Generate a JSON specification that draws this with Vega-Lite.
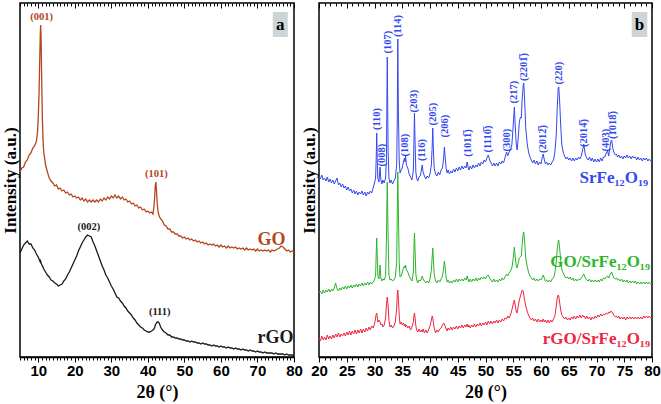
{
"$schema":"https://vega.github.io/schema/vega-lite/v6.json",
"padding":{"left":0,"top":1,"right":0,"bottom":0},
"background":"white",
"spacing":25,
"bounds":"flush",
"resolve":{"scale":{"color":"independent"}},
"config":{
 "view":{"stroke":"black","strokeWidth":1.5},
 "axis":{"domainColor":"black","domainWidth":1.5,"tickColor":"black","tickWidth":1,"grid":false,"labelFont":"Liberation Sans","labelFontWeight":"bold","labelFontSize":15,"labelColor":"black","titleFont":"Liberation Serif","titleFontWeight":"bold","titleFontSize":18,"titleColor":"black"},
 "text":{"font":"Liberation Serif","fontWeight":"bold"}
},
"hconcat":[
{
 "width":274,"height":354,
 "resolve":{"axis":{"x":"independent","y":"independent"}},
 "layer":[
 {
  "data":{"values":[
{"t":5,"GO":188,"rGO":107},{"t":5.5,"GO":192,"rGO":111},{"t":6,"GO":193,"rGO":115},{"t":6.5,"GO":198,"rGO":117},{"t":7,"GO":200,"rGO":119},{"t":7.5,"GO":205,"rGO":116},{"t":8,"GO":207,"rGO":116},{"t":8.5,"GO":212,"rGO":112},{"t":9,"GO":214,"rGO":110},{"t":9.5,"GO":219,"rGO":106},{"t":9.8,"GO":228,"rGO":104},{"t":10,"GO":243,"rGO":103},{"t":10.2,"GO":265,"rGO":101},{"t":10.4,"GO":300,"rGO":99},{"t":10.55,"GO":325,"rGO":98},{"t":10.65,"GO":335,"rGO":99},{"t":10.75,"GO":325,"rGO":97},{"t":10.9,"GO":290,"rGO":96},{"t":11.1,"GO":245,"rGO":94},{"t":11.3,"GO":220,"rGO":93},{"t":11.5,"GO":208,"rGO":91},{"t":12,"GO":195,"rGO":88},{"t":12.5,"GO":188,"rGO":85},{"t":13,"GO":182,"rGO":83},{"t":13.5,"GO":179,"rGO":80},{"t":14,"GO":177,"rGO":79},{"t":14.5,"GO":174,"rGO":77},{"t":15,"GO":175,"rGO":76},{"t":15.5,"GO":171,"rGO":74},{"t":16,"GO":172,"rGO":75},{"t":16.5,"GO":169,"rGO":76},{"t":17,"GO":170,"rGO":79},{"t":17.5,"GO":167,"rGO":81},{"t":18,"GO":168,"rGO":85},{"t":18.5,"GO":165,"rGO":88},{"t":19,"GO":166,"rGO":92},{"t":19.5,"GO":163,"rGO":96},{"t":20,"GO":164,"rGO":100},{"t":20.5,"GO":162,"rGO":104},{"t":21,"GO":163,"rGO":109},{"t":21.5,"GO":160,"rGO":113},{"t":22,"GO":162,"rGO":117},{"t":22.5,"GO":159,"rGO":120},{"t":23,"GO":161,"rGO":123},{"t":23.5,"GO":158,"rGO":125},{"t":24,"GO":160,"rGO":124},{"t":24.5,"GO":158,"rGO":123},{"t":25,"GO":160,"rGO":118},{"t":25.5,"GO":158,"rGO":114},{"t":26,"GO":160,"rGO":109},{"t":26.5,"GO":158,"rGO":104},{"t":27,"GO":161,"rGO":99},{"t":27.5,"GO":159,"rGO":94},{"t":28,"GO":162,"rGO":90},{"t":28.5,"GO":160,"rGO":85},{"t":29,"GO":163,"rGO":82},{"t":29.5,"GO":161,"rGO":78},{"t":30,"GO":164,"rGO":74},{"t":30.5,"GO":162,"rGO":71},{"t":31,"GO":165,"rGO":67},{"t":31.5,"GO":162,"rGO":63},{"t":32,"GO":164,"rGO":62},{"t":32.5,"GO":161,"rGO":59},{"t":33,"GO":163,"rGO":57},{"t":33.5,"GO":160,"rGO":54},{"t":34,"GO":161,"rGO":52},{"t":34.5,"GO":158,"rGO":49},{"t":35,"GO":159,"rGO":47},{"t":35.5,"GO":156,"rGO":45},{"t":36,"GO":157,"rGO":42},{"t":36.5,"GO":154,"rGO":40},{"t":37,"GO":155,"rGO":37},{"t":37.5,"GO":152,"rGO":35},{"t":38,"GO":153,"rGO":33},{"t":38.5,"GO":150,"rGO":32},{"t":39,"GO":151,"rGO":30},{"t":39.5,"GO":148,"rGO":29},{"t":40,"GO":149,"rGO":28},{"t":40.5,"GO":147,"rGO":28},{"t":41,"GO":148,"rGO":29},{"t":41.4,"GO":146,"rGO":30},{"t":41.7,"GO":155,"rGO":31},{"t":41.9,"GO":165,"rGO":33},{"t":42.05,"GO":175,"rGO":35},{"t":42.2,"GO":178,"rGO":36},{"t":42.35,"GO":170,"rGO":37},{"t":42.55,"GO":157,"rGO":38},{"t":42.8,"GO":148,"rGO":38},{"t":43.1,"GO":144,"rGO":37},{"t":43.5,"GO":141,"rGO":33},{"t":44,"GO":139,"rGO":30},{"t":44.5,"GO":135,"rGO":28},{"t":45,"GO":134,"rGO":27},{"t":45.5,"GO":131,"rGO":25},{"t":46,"GO":131,"rGO":25},{"t":46.5,"GO":128,"rGO":23},{"t":47,"GO":128,"rGO":23},{"t":47.5,"GO":126,"rGO":22},{"t":48,"GO":126,"rGO":22},{"t":48.5,"GO":124,"rGO":21},{"t":49,"GO":124,"rGO":21},{"t":49.5,"GO":122,"rGO":20},{"t":50,"GO":123,"rGO":20},{"t":50.5,"GO":121,"rGO":19},{"t":51,"GO":122,"rGO":19},{"t":51.5,"GO":120,"rGO":18},{"t":52,"GO":121,"rGO":19},{"t":52.5,"GO":119,"rGO":18},{"t":53,"GO":120,"rGO":18},{"t":53.5,"GO":118,"rGO":17},{"t":54,"GO":119,"rGO":17},{"t":54.5,"GO":117,"rGO":16},{"t":55,"GO":118,"rGO":17},{"t":55.5,"GO":116,"rGO":16},{"t":56,"GO":117,"rGO":16},{"t":56.5,"GO":115,"rGO":15},{"t":57,"GO":116,"rGO":15},{"t":57.5,"GO":115,"rGO":14},{"t":58,"GO":116,"rGO":15},{"t":58.5,"GO":114,"rGO":14},{"t":59,"GO":115,"rGO":14},{"t":59.5,"GO":113,"rGO":13},{"t":60,"GO":115,"rGO":14},{"t":60.5,"GO":113,"rGO":13},{"t":61,"GO":114,"rGO":13},{"t":61.5,"GO":112,"rGO":12},{"t":62,"GO":114,"rGO":13},{"t":62.5,"GO":112,"rGO":12},{"t":63,"GO":113,"rGO":12},{"t":63.5,"GO":112,"rGO":11},{"t":64,"GO":113,"rGO":12},{"t":64.5,"GO":111,"rGO":11},{"t":65,"GO":112,"rGO":11},{"t":65.5,"GO":111,"rGO":10},{"t":66,"GO":112,"rGO":11},{"t":66.5,"GO":110,"rGO":10},{"t":67,"GO":112,"rGO":10},{"t":67.5,"GO":110,"rGO":9},{"t":68,"GO":111,"rGO":10},{"t":68.5,"GO":110,"rGO":9},{"t":69,"GO":111,"rGO":9},{"t":69.5,"GO":109,"rGO":8},{"t":70,"GO":111,"rGO":9},{"t":70.5,"GO":109,"rGO":8},{"t":71,"GO":110,"rGO":8},{"t":71.5,"GO":109,"rGO":7},{"t":72,"GO":110,"rGO":8},{"t":72.5,"GO":109,"rGO":7},{"t":73,"GO":110,"rGO":7},{"t":73.5,"GO":108,"rGO":7},{"t":74,"GO":110,"rGO":7},{"t":74.5,"GO":109,"rGO":6},{"t":75,"GO":110,"rGO":7},{"t":75.5,"GO":111,"rGO":6},{"t":76,"GO":112,"rGO":6},{"t":76.5,"GO":114,"rGO":6},{"t":77,"GO":113,"rGO":6},{"t":77.5,"GO":111,"rGO":5},{"t":78,"GO":109,"rGO":6},{"t":78.5,"GO":110,"rGO":5},{"t":79,"GO":108,"rGO":5},{"t":79.5,"GO":109,"rGO":5},{"t":80,"GO":108,"rGO":5}
  ]},
  "transform":[{"fold":["GO","rGO"],"as":["series","v"]}],
  "mark":{"type":"line","strokeWidth":1.3},
  "encoding":{
   "x":{"field":"t","type":"quantitative","scale":{"domain":[5,80],"nice":false,"zero":false},
    "axis":{"orient":"bottom","values":[5,6,7,8,9,10,11,12,13,14,15,16,17,18,19,20,21,22,23,24,25,26,27,28,29,30,31,32,33,34,35,36,37,38,39,40,41,42,43,44,45,46,47,48,49,50,51,52,53,54,55,56,57,58,59,60,61,62,63,64,65,66,67,68,69,70,71,72,73,74,75,76,77,78,79,80],
     "tickSize":{"condition":{"test":"datum.value % 10 === 0","value":5},"value":3},
     "labelExpr":"datum.value % 10 === 0 ? datum.label : ''","labelFlush":false,"labelOverlap":false,"labelPadding":1,"title":"2θ (°)","titlePadding":5}},
   "y":{"field":"v","type":"quantitative","scale":{"domain":[3,357],"nice":false,"zero":false},
    "axis":{"title":"Intensity (a.u.)","ticks":false,"labels":false,"domain":false,"titlePadding":1,"titleFontSize":17}},
   "color":{"field":"series","type":"nominal","scale":{"domain":["GO","rGO"],"range":["#b5451b","#1a1a1a"]},"legend":null},
   "order":{"field":"t","type":"quantitative"}
  }
 },
 {
  "data":{"values":[
   {"t":10.9,"v":343,"lab":"(001)","series":"GO"},
   {"t":42.35,"v":186,"lab":"(101)","series":"GO"},
   {"t":23.85,"v":133,"lab":"(002)","series":"rGO"},
   {"t":43.25,"v":48,"lab":"(111)","series":"rGO"}
  ]},
  "mark":{"type":"text","fontSize":10.5,"align":"center","baseline":"middle"},
  "encoding":{
   "x":{"field":"t","type":"quantitative","axis":{"orient":"top","values":[5,6,7,8,9,10,11,12,13,14,15,16,17,18,19,20,21,22,23,24,25,26,27,28,29,30,31,32,33,34,35,36,37,38,39,40,41,42,43,44,45,46,47,48,49,50,51,52,53,54,55,56,57,58,59,60,61,62,63,64,65,66,67,68,69,70,71,72,73,74,75,76,77,78,79,80],"labels":false,"title":null,"domain":false,
     "tickSize":{"condition":{"test":"datum.value % 10 === 0","value":-5},"value":-3}}},
   "y":{"field":"v","type":"quantitative","axis":null},
   "text":{"field":"lab"},
   "color":{"field":"series","type":"nominal","legend":null}
  }
 },
 {
  "data":{"values":[
   {"t":73.85,"v":120,"lab":"GO","series":"GO"},
   {"t":74.95,"v":22,"lab":"rGO","series":"rGO"}
  ]},
  "mark":{"type":"text","fontSize":18,"align":"center","baseline":"middle"},
  "encoding":{
   "x":{"field":"t","type":"quantitative","axis":null},
   "y":{"field":"v","type":"quantitative","axis":null},
   "text":{"field":"lab"},
   "color":{"field":"series","type":"nominal","legend":null}
  }
 },
 {
  "data":{"values":[{"t1":74.2,"t2":78.3,"v1":348,"v2":323}]},
  "mark":{"type":"rect","color":"#cdd5d8"},
  "encoding":{
   "x":{"field":"t1","type":"quantitative","axis":null},"x2":{"field":"t2"},
   "y":{"field":"v1","type":"quantitative","axis":null},"y2":{"field":"v2"}
  }
 },
 {
  "data":{"values":[{"t":76.25,"v":335,"lab":"a"}]},
  "mark":{"type":"text","fontSize":17,"align":"center","baseline":"middle","color":"black"},
  "encoding":{
   "x":{"field":"t","type":"quantitative","axis":null},
   "y":{"field":"v","type":"quantitative","axis":null},
   "text":{"field":"lab"}
  }
 }
 ]
},
{
 "width":333,"height":354,
 "resolve":{"axis":{"x":"independent","y":"independent"}},
 "layer":[
 {
  "data":{"values":[
{"t":20,"S":184,"G":67,"R":22},{"t":20.25,"S":181,"G":69,"R":19},{"t":20.5,"S":185,"G":66,"R":24},{"t":20.75,"S":180,"G":70,"R":20},{"t":21,"S":182,"G":67,"R":23},{"t":21.25,"S":179,"G":70,"R":20},{"t":21.5,"S":183,"G":68,"R":25},{"t":21.75,"S":178,"G":71,"R":21},{"t":22,"S":181,"G":68,"R":24},{"t":22.25,"S":177,"G":71,"R":21},{"t":22.5,"S":180,"G":69,"R":25},{"t":22.75,"S":176,"G":72,"R":22},{"t":23,"S":179,"G":77,"R":26},{"t":23.25,"S":182,"G":71,"R":23},{"t":23.5,"S":175,"G":69,"R":27},{"t":23.75,"S":177,"G":72,"R":23},{"t":24,"S":173,"G":70,"R":26},{"t":24.25,"S":176,"G":73,"R":24},{"t":24.5,"S":172,"G":71,"R":27},{"t":24.75,"S":174,"G":74,"R":24},{"t":25,"S":170,"G":71,"R":28},{"t":25.25,"S":173,"G":74,"R":25},{"t":25.5,"S":169,"G":72,"R":29},{"t":25.75,"S":171,"G":75,"R":25},{"t":26,"S":167,"G":72,"R":29},{"t":26.25,"S":170,"G":75,"R":26},{"t":26.5,"S":166,"G":73,"R":30},{"t":26.75,"S":169,"G":76,"R":26},{"t":27,"S":165,"G":73,"R":30},{"t":27.25,"S":168,"G":76,"R":27},{"t":27.5,"S":166,"G":74,"R":31},{"t":27.75,"S":169,"G":77,"R":27},{"t":28,"S":165,"G":74,"R":31},{"t":28.25,"S":168,"G":77,"R":28},{"t":28.5,"S":164,"G":75,"R":32},{"t":28.75,"S":168,"G":78,"R":29},{"t":29,"S":166,"G":75,"R":33},{"t":29.25,"S":169,"G":78,"R":30},{"t":29.5,"S":167,"G":76,"R":34},{"t":29.75,"S":172,"G":78,"R":32},{"t":30,"S":177,"G":80,"R":36},{"t":30.2,"S":182,"G":85,"R":42},{"t":30.3,"S":200,"G":105,"R":46},{"t":30.4,"S":227,"G":122,"R":47},{"t":30.5,"S":200,"G":102,"R":42},{"t":30.6,"S":182,"G":84,"R":38},{"t":30.8,"S":178,"G":81,"R":40},{"t":31,"S":193,"G":95,"R":38},{"t":31.15,"S":180,"G":82,"R":35},{"t":31.35,"S":176,"G":79,"R":36},{"t":31.5,"S":180,"G":81,"R":33},{"t":31.75,"S":177,"G":80,"R":35},{"t":32,"S":182,"G":84,"R":42},{"t":32.15,"S":200,"G":120,"R":55},{"t":32.3,"S":303,"G":178,"R":63},{"t":32.45,"S":210,"G":125,"R":55},{"t":32.6,"S":182,"G":85,"R":40},{"t":32.8,"S":177,"G":80,"R":33},{"t":33,"S":180,"G":81,"R":35},{"t":33.25,"S":176,"G":79,"R":32},{"t":33.5,"S":179,"G":80,"R":34},{"t":33.75,"S":182,"G":83,"R":38},{"t":34,"S":195,"G":98,"R":52},{"t":34.1,"S":240,"G":145,"R":65},{"t":34.2,"S":321,"G":188,"R":70},{"t":34.3,"S":250,"G":150,"R":62},{"t":34.45,"S":200,"G":98,"R":45},{"t":34.6,"S":187,"G":83,"R":36},{"t":34.8,"S":190,"G":84,"R":38},{"t":35,"S":192,"G":87,"R":35},{"t":35.2,"S":198,"G":92,"R":37},{"t":35.4,"S":202,"G":94,"R":34},{"t":35.5,"S":198,"G":92,"R":36},{"t":35.6,"S":204,"G":95,"R":33},{"t":35.75,"S":195,"G":90,"R":35},{"t":36,"S":192,"G":88,"R":32},{"t":36.25,"S":186,"G":84,"R":34},{"t":36.5,"S":183,"G":81,"R":30},{"t":36.75,"S":180,"G":79,"R":33},{"t":37,"S":190,"G":88,"R":38},{"t":37.1,"S":215,"G":110,"R":44},{"t":37.2,"S":247,"G":127,"R":47},{"t":37.3,"S":220,"G":112,"R":43},{"t":37.45,"S":188,"G":86,"R":34},{"t":37.6,"S":182,"G":80,"R":30},{"t":37.8,"S":179,"G":77,"R":28},{"t":38,"S":183,"G":80,"R":31},{"t":38.25,"S":184,"G":79,"R":28},{"t":38.45,"S":190,"G":81,"R":30},{"t":38.6,"S":195,"G":84,"R":28},{"t":38.75,"S":188,"G":81,"R":31},{"t":39,"S":184,"G":79,"R":27},{"t":39.25,"S":181,"G":77,"R":30},{"t":39.5,"S":184,"G":79,"R":27},{"t":39.75,"S":182,"G":77,"R":30},{"t":40,"S":186,"G":81,"R":34},{"t":40.25,"S":195,"G":90,"R":40},{"t":40.4,"S":215,"G":104,"R":44},{"t":40.5,"S":232,"G":112,"R":42},{"t":40.6,"S":212,"G":102,"R":38},{"t":40.75,"S":192,"G":86,"R":32},{"t":41,"S":186,"G":79,"R":27},{"t":41.25,"S":184,"G":77,"R":30},{"t":41.5,"S":188,"G":80,"R":28},{"t":41.75,"S":185,"G":78,"R":31},{"t":42,"S":190,"G":81,"R":32},{"t":42.25,"S":192,"G":84,"R":35},{"t":42.45,"S":202,"G":92,"R":37},{"t":42.6,"S":213,"G":99,"R":36},{"t":42.7,"S":205,"G":94,"R":34},{"t":42.9,"S":192,"G":83,"R":31},{"t":43.1,"S":187,"G":78,"R":29},{"t":43.25,"S":190,"G":80,"R":32},{"t":43.5,"S":186,"G":77,"R":30},{"t":43.75,"S":189,"G":79,"R":33},{"t":44,"S":187,"G":77,"R":30},{"t":44.25,"S":191,"G":80,"R":33},{"t":44.5,"S":188,"G":78,"R":31},{"t":44.75,"S":192,"G":81,"R":34},{"t":45,"S":189,"G":78,"R":31},{"t":45.25,"S":193,"G":81,"R":34},{"t":45.5,"S":190,"G":79,"R":32},{"t":45.75,"S":194,"G":81,"R":35},{"t":46,"S":191,"G":79,"R":32},{"t":46.25,"S":194,"G":82,"R":35},{"t":46.5,"S":192,"G":80,"R":33},{"t":46.7,"S":198,"G":84,"R":36},{"t":46.85,"S":193,"G":81,"R":33},{"t":47,"S":190,"G":78,"R":35},{"t":47.25,"S":194,"G":81,"R":32},{"t":47.5,"S":191,"G":78,"R":35},{"t":47.75,"S":195,"G":81,"R":33},{"t":48,"S":192,"G":79,"R":36},{"t":48.25,"S":195,"G":82,"R":33},{"t":48.5,"S":193,"G":79,"R":36},{"t":48.75,"S":197,"G":82,"R":34},{"t":49,"S":194,"G":80,"R":37},{"t":49.25,"S":198,"G":83,"R":34},{"t":49.5,"S":196,"G":81,"R":37},{"t":49.75,"S":200,"G":83,"R":35},{"t":50,"S":198,"G":81,"R":38},{"t":50.25,"S":202,"G":84,"R":35},{"t":50.5,"S":205,"G":85,"R":39},{"t":50.75,"S":200,"G":82,"R":36},{"t":51,"S":197,"G":80,"R":39},{"t":51.25,"S":194,"G":78,"R":36},{"t":51.5,"S":197,"G":81,"R":39},{"t":51.75,"S":194,"G":78,"R":37},{"t":52,"S":197,"G":80,"R":40},{"t":52.25,"S":194,"G":78,"R":37},{"t":52.5,"S":198,"G":81,"R":40},{"t":52.75,"S":196,"G":79,"R":38},{"t":53,"S":199,"G":82,"R":41},{"t":53.25,"S":197,"G":80,"R":39},{"t":53.5,"S":202,"G":83,"R":42},{"t":53.8,"S":208,"G":86,"R":41},{"t":54,"S":204,"G":84,"R":44},{"t":54.25,"S":208,"G":87,"R":42},{"t":54.5,"S":210,"G":89,"R":45},{"t":54.75,"S":215,"G":92,"R":50},{"t":55,"S":235,"G":102,"R":56},{"t":55.2,"S":253,"G":113,"R":60},{"t":55.35,"S":235,"G":103,"R":55},{"t":55.55,"S":215,"G":94,"R":48},{"t":55.7,"S":210,"G":92,"R":47},{"t":55.9,"S":222,"G":97,"R":54},{"t":56.1,"S":238,"G":102,"R":60},{"t":56.3,"S":243,"G":103,"R":64},{"t":56.45,"S":242,"G":104,"R":67},{"t":56.6,"S":260,"G":115,"R":70},{"t":56.8,"S":275,"G":127,"R":69},{"t":56.9,"S":277,"G":128,"R":65},{"t":57.05,"S":260,"G":118,"R":60},{"t":57.25,"S":232,"G":102,"R":54},{"t":57.5,"S":217,"G":94,"R":49},{"t":57.75,"S":208,"G":88,"R":45},{"t":58,"S":203,"G":84,"R":42},{"t":58.25,"S":200,"G":82,"R":40},{"t":58.5,"S":197,"G":80,"R":42},{"t":58.75,"S":200,"G":82,"R":39},{"t":59,"S":196,"G":79,"R":41},{"t":59.25,"S":199,"G":81,"R":38},{"t":59.5,"S":195,"G":79,"R":41},{"t":59.75,"S":198,"G":81,"R":38},{"t":60,"S":196,"G":80,"R":40},{"t":60.2,"S":202,"G":82,"R":38},{"t":60.4,"S":206,"G":85,"R":41},{"t":60.6,"S":200,"G":82,"R":38},{"t":60.8,"S":196,"G":79,"R":40},{"t":61,"S":198,"G":80,"R":37},{"t":61.25,"S":195,"G":78,"R":40},{"t":61.5,"S":197,"G":80,"R":37},{"t":61.75,"S":195,"G":78,"R":40},{"t":62,"S":198,"G":81,"R":38},{"t":62.25,"S":200,"G":82,"R":41},{"t":62.5,"S":208,"G":87,"R":44},{"t":62.75,"S":225,"G":98,"R":54},{"t":62.95,"S":255,"G":112,"R":63},{"t":63.1,"S":272,"G":119,"R":65},{"t":63.2,"S":273,"G":120,"R":64},{"t":63.35,"S":260,"G":112,"R":58},{"t":63.55,"S":235,"G":100,"R":50},{"t":63.75,"S":215,"G":91,"R":45},{"t":64,"S":208,"G":87,"R":43},{"t":64.25,"S":204,"G":84,"R":41},{"t":64.5,"S":201,"G":82,"R":43},{"t":64.75,"S":203,"G":83,"R":40},{"t":65,"S":200,"G":81,"R":42},{"t":65.25,"S":202,"G":83,"R":40},{"t":65.5,"S":199,"G":80,"R":43},{"t":65.75,"S":202,"G":82,"R":41},{"t":66,"S":199,"G":79,"R":44},{"t":66.25,"S":202,"G":81,"R":41},{"t":66.5,"S":200,"G":79,"R":44},{"t":66.75,"S":203,"G":81,"R":42},{"t":67,"S":201,"G":80,"R":45},{"t":67.25,"S":204,"G":82,"R":42},{"t":67.5,"S":210,"G":84,"R":45},{"t":67.7,"S":216,"G":86,"R":43},{"t":67.85,"S":210,"G":84,"R":44},{"t":68,"S":205,"G":82,"R":41},{"t":68.25,"S":202,"G":80,"R":44},{"t":68.5,"S":200,"G":79,"R":41},{"t":68.75,"S":203,"G":81,"R":43},{"t":69,"S":199,"G":78,"R":40},{"t":69.25,"S":202,"G":80,"R":43},{"t":69.5,"S":198,"G":78,"R":41},{"t":69.75,"S":201,"G":80,"R":44},{"t":70,"S":198,"G":78,"R":42},{"t":70.25,"S":201,"G":80,"R":45},{"t":70.5,"S":198,"G":78,"R":43},{"t":70.75,"S":202,"G":81,"R":46},{"t":71,"S":199,"G":79,"R":44},{"t":71.25,"S":203,"G":82,"R":46},{"t":71.5,"S":203,"G":81,"R":45},{"t":71.75,"S":207,"G":83,"R":47},{"t":72,"S":209,"G":84,"R":46},{"t":72.2,"S":204,"G":82,"R":48},{"t":72.4,"S":212,"G":85,"R":47},{"t":72.6,"S":219,"G":87,"R":49},{"t":72.75,"S":220,"G":88,"R":48},{"t":72.9,"S":213,"G":85,"R":47},{"t":73.1,"S":208,"G":82,"R":45},{"t":73.4,"S":205,"G":81,"R":43},{"t":73.6,"S":206,"G":82,"R":44},{"t":73.8,"S":203,"G":80,"R":42},{"t":74,"S":205,"G":81,"R":44},{"t":74.25,"S":202,"G":79,"R":41},{"t":74.5,"S":204,"G":81,"R":43},{"t":74.75,"S":201,"G":78,"R":41},{"t":75,"S":204,"G":80,"R":43},{"t":75.25,"S":202,"G":78,"R":40},{"t":75.5,"S":205,"G":80,"R":43},{"t":75.75,"S":202,"G":77,"R":41},{"t":76,"S":204,"G":79,"R":43},{"t":76.25,"S":201,"G":77,"R":41},{"t":76.5,"S":204,"G":79,"R":43},{"t":76.75,"S":202,"G":77,"R":41},{"t":77,"S":203,"G":79,"R":43},{"t":77.25,"S":200,"G":76,"R":41},{"t":77.5,"S":203,"G":78,"R":43},{"t":77.75,"S":200,"G":76,"R":41},{"t":78,"S":202,"G":78,"R":43},{"t":78.25,"S":199,"G":76,"R":41},{"t":78.5,"S":202,"G":78,"R":44},{"t":78.75,"S":200,"G":76,"R":42},{"t":79,"S":202,"G":78,"R":44},{"t":79.25,"S":199,"G":76,"R":42},{"t":79.5,"S":201,"G":78,"R":44},{"t":79.75,"S":199,"G":76,"R":42},{"t":80,"S":200,"G":77,"R":43}
  ]},
  "transform":[{"fold":["S","G","R"],"as":["series","v"]}],
  "mark":{"type":"line","strokeWidth":1},
  "encoding":{
   "x":{"field":"t","type":"quantitative","scale":{"domain":[20,80],"nice":false,"zero":false},
    "axis":{"orient":"bottom","values":[20,21,22,23,24,25,26,27,28,29,30,31,32,33,34,35,36,37,38,39,40,41,42,43,44,45,46,47,48,49,50,51,52,53,54,55,56,57,58,59,60,61,62,63,64,65,66,67,68,69,70,71,72,73,74,75,76,77,78,79,80],
     "tickSize":{"condition":{"test":"datum.value % 5 === 0","value":5},"value":3},
     "labelExpr":"datum.value % 5 === 0 ? datum.label : ''","labelFlush":false,"labelOverlap":false,"labelPadding":1,"title":"2θ (°)","titlePadding":5}},
   "y":{"field":"v","type":"quantitative","scale":{"domain":[3,357],"nice":false,"zero":false},
    "axis":{"title":"Intensity (a.u.)","ticks":false,"labels":false,"domain":false,"titlePadding":1,"titleFontSize":17}},
   "color":{"field":"series","type":"nominal","scale":{"domain":["S","G","R"],"range":["#3448f0","#2ab52a","#f0253f"]},"legend":null},
   "order":{"field":"t","type":"quantitative"}
  }
 },
 {
  "data":{"values":[
   {"t":30.4,"v":241,"lab":"(110)","series":"S"},
   {"t":31.4,"v":205,"lab":"(008)","series":"S"},
   {"t":32.35,"v":318,"lab":"(107)","series":"S"},
   {"t":34.2,"v":334,"lab":"(114)","series":"S"},
   {"t":35.5,"v":215,"lab":"(108)","series":"S"},
   {"t":37.2,"v":259,"lab":"(203)","series":"S"},
   {"t":38.6,"v":210,"lab":"(116)","series":"S"},
   {"t":40.5,"v":246,"lab":"(205)","series":"S"},
   {"t":42.65,"v":234,"lab":"(206)","series":"S"},
   {"t":46.9,"v":217,"lab":"(1011\u0305)","series":"S"},
   {"t":50.5,"v":221,"lab":"(1110\u0305)","series":"S"},
   {"t":53.8,"v":220,"lab":"(300)","series":"S"},
   {"t":55.2,"v":268,"lab":"(217)","series":"S"},
   {"t":56.95,"v":293,"lab":"(2201\u0305)","series":"S"},
   {"t":60.4,"v":221,"lab":"(2012\u0305)","series":"S"},
   {"t":63.25,"v":287,"lab":"(220)","series":"S"},
   {"t":67.75,"v":227,"lab":"(2014\u0305)","series":"S"},
   {"t":71.65,"v":220,"lab":"(403)","series":"S"},
   {"t":73.0,"v":235,"lab":"(1018\u0305)","series":"S"}
  ]},
  "mark":{"type":"text","fontSize":10.5,"align":"center","baseline":"middle","angle":270},
  "encoding":{
   "x":{"field":"t","type":"quantitative","axis":{"orient":"top","values":[20,21,22,23,24,25,26,27,28,29,30,31,32,33,34,35,36,37,38,39,40,41,42,43,44,45,46,47,48,49,50,51,52,53,54,55,56,57,58,59,60,61,62,63,64,65,66,67,68,69,70,71,72,73,74,75,76,77,78,79,80],"labels":false,"title":null,"domain":false,
     "tickSize":{"condition":{"test":"datum.value % 5 === 0","value":-5},"value":-3}}},
   "y":{"field":"v","type":"quantitative","axis":null},
   "text":{"field":"lab"},
   "color":{"field":"series","type":"nominal","legend":null}
  }
 },
 {
  "data":{"values":[
   {"t":79.3,"v":182,"lab":"SrFe₁₂O₁₉","series":"S"},
   {"t":79.65,"v":98,"lab":"GO/SrFe₁₂O₁₉","series":"G"},
   {"t":79.65,"v":21,"lab":"rGO/SrFe₁₂O₁₉","series":"R"}
  ]},
  "mark":{"type":"text","fontSize":17,"align":"right","baseline":"middle"},
  "encoding":{
   "x":{"field":"t","type":"quantitative","axis":null},
   "y":{"field":"v","type":"quantitative","axis":null},
   "text":{"field":"lab"},
   "color":{"field":"series","type":"nominal","legend":null}
  }
 },
 {
  "data":{"values":[{"t1":76.35,"t2":79.15,"v1":348,"v2":323}]},
  "mark":{"type":"rect","color":"#cdd5d8"},
  "encoding":{
   "x":{"field":"t1","type":"quantitative","axis":null},"x2":{"field":"t2"},
   "y":{"field":"v1","type":"quantitative","axis":null},"y2":{"field":"v2"}
  }
 },
 {
  "data":{"values":[{"t":77.75,"v":335,"lab":"b"}]},
  "mark":{"type":"text","fontSize":17,"align":"center","baseline":"middle","color":"black"},
  "encoding":{
   "x":{"field":"t","type":"quantitative","axis":null},
   "y":{"field":"v","type":"quantitative","axis":null},
   "text":{"field":"lab"}
  }
 }
 ]
}
]
}
